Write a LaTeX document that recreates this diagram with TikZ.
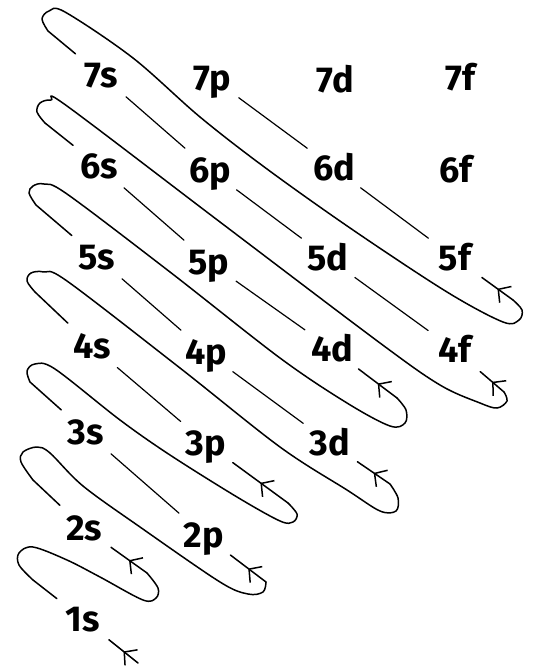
\documentclass[tikz,border=0pt]{standalone}
\usepackage{fontspec}
\setmainfont{Fira Sans}
\usetikzlibrary{arrows.meta, decorations.markings}

\tikzset{
  orb/.style={circle, minimum size=66pt, inner sep=0pt,
    font=\bfseries\fontsize{36}{40}\selectfont, text height=25pt, text depth=0pt},
  trail/.style={line width=1.5pt, line cap=round, line join=round},
  rung/.style={line width=1.2pt, line cap=round},
  flow/.style={trail, decoration={markings,
      mark=at position 0.5 with {\arrow{Straight Barb[length=9pt, width=20pt]}}},
    postaction={decorate}}
}

\begin{document}
\begin{tikzpicture}[x=1pt, y=1pt]
  \useasboundingbox (0,-666) rectangle (535,0);

  % orbital labels
  \foreach \o/\x/\y in {1s/83/619, 2s/84/528, 2p/204/535, 3s/86/432, 3p/206/443, 3d/330/443,
      4s/92/346, 4p/206/352, 4d/332/349, 4f/455/350, 5s/97/257, 5p/209/262, 5d/328/258, 5f/455/258,
      6s/99/166, 6p/210/170, 6d/334/168, 6f/456/170, 7s/101/75, 7p/212/78, 7d/335/80, 7f/460/78}
    \node[orb] (n\o) at (\x,-\y) {\o};

  % steps along the diagonals
  \foreach \a/\b in {2p/3s, 3p/4s, 3d/4p, 4p/5s, 4d/5p, 5p/6s, 4f/5d, 5d/6p, 6p/7s, 5f/6d, 6d/7p}
    \draw[rung] (n\a) -- (n\b);

  % turning points
  \coordinate (s0) at (138,-663);
  \coordinate (r1) at (147,-573);
  \coordinate (r2) at (266,-582);
  \coordinate (r3) at (288,-503);
  \coordinate (r4) at (390,-484);
  \coordinate (r5) at (397,-398);
  \coordinate (r6) at (504,-392);
  \coordinate (r7) at (513,-300);

  % loops
  \draw[trail] (n1s) -- (33,-580) -- plot[smooth, tension=0.55] coordinates {(33,-580) (19,-565) (19,-553)
    (33,-547) (67,-560) (100,-577) (143,-600) (156,-598) (158,-588) (r1)};
  \draw[trail] (n2s) -- (33,-480) -- plot[smooth, tension=0.55] coordinates {(33,-480) (21,-462) (23,-452)
    (37,-447) (50,-453) (83,-486) (140,-527) (220,-582) (248,-594) (263,-592) (r2)};
  \draw[trail] (n3s) -- (30,-382) -- plot[smooth, tension=0.55] coordinates {(30,-382) (27,-371) (35,-364)
    (55,-369) (120,-420) (170,-455) (237,-497) (280,-521) (293,-522) (297,-514) (r3)};
  \draw[trail] (n4s) -- (35,-292) -- plot[smooth, tension=0.55] coordinates {(35,-292) (27,-281) (31,-273)
    (44,-272) (67,-281) (180,-368) (280,-447) (347,-490) (380,-511) (396,-511) (398,-498) (r4)};
  \draw[trail] (n5s) -- (36,-205) -- plot[smooth, tension=0.55] coordinates {(36,-205) (29,-193) (33,-186)
    (44,-184) (67,-194) (170,-272) (280,-358) (347,-403) (390,-426) (405,-423) (406,-410) (r5)};
  \draw[trail] (n6s) -- (45,-123) -- plot[smooth, tension=0.55] coordinates {(45,-123) (37,-112) (40,-103)
    (51,-100) (67,-106) (220,-222) (380,-343) (440,-385) (480,-403) (497,-408) (507,-401) (r6)};
  \draw[trail] (n7s) -- (48,-31) -- plot[smooth, tension=0.55] coordinates {(48,-31) (42,-19) (49,-11)
    (65,-12) (133,-58) (200,-117) (267,-169) (353,-230) (447,-292) (503,-322) (519,-320) (522,-310) (r7)};

  % arrows into the labels
  \foreach \r/\l in {s0/1s, r1/2s, r2/2p, r3/3p, r4/3d, r5/4d, r6/4f, r7/5f}
    \draw[flow] (\r) -- (n\l);
\end{tikzpicture}
\end{document}
